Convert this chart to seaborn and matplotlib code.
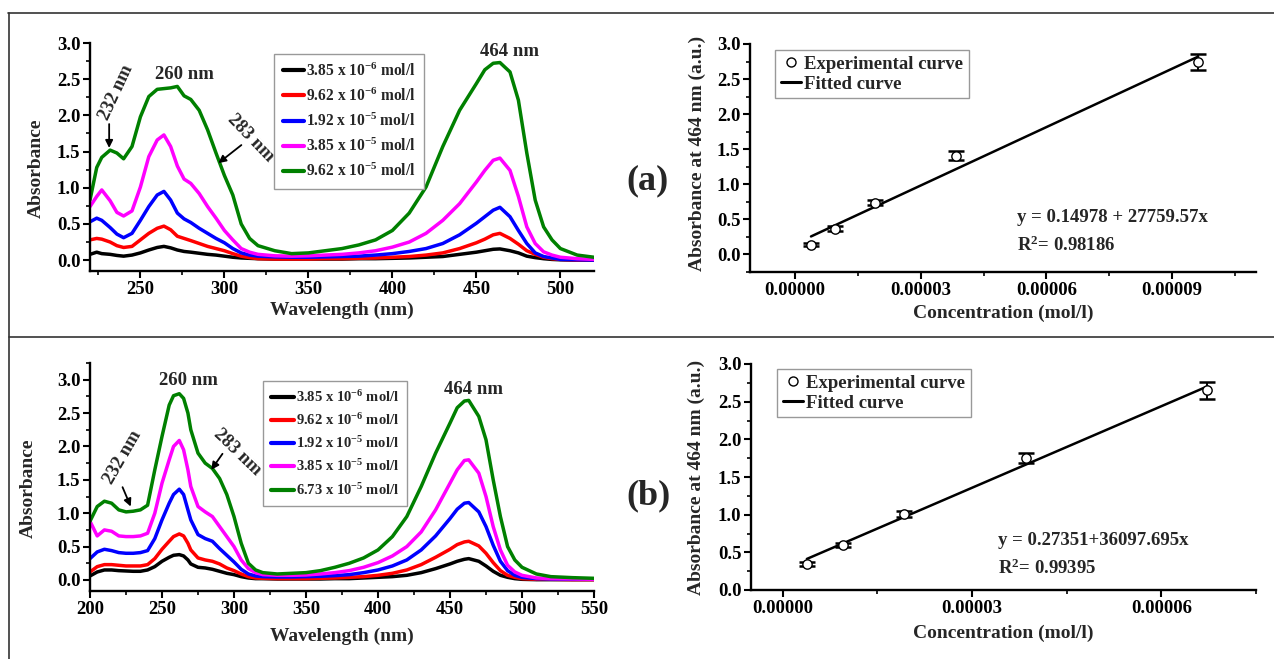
import numpy as np
import pandas as pd
import matplotlib
matplotlib.use("Agg")
import matplotlib.pyplot as plt
from matplotlib.lines import Line2D
from matplotlib.ticker import MultipleLocator, FormatStrFormatter
import seaborn as sns

# ---------------- data ----------------
labels_a = ['3.85 x 10$^{-6}$ mol/l', '9.62 x 10$^{-6}$ mol/l', '1.92 x 10$^{-5}$ mol/l',
            '3.85 x 10$^{-5}$ mol/l', '9.62 x 10$^{-5}$ mol/l']
labels_b = ['3.85 x 10$^{-6}$ mol/l', '9.62 x 10$^{-6}$ mol/l', '1.92 x 10$^{-5}$ mol/l',
            '3.85 x 10$^{-5}$ mol/l', '6.73 x 10$^{-5}$ mol/l']
colors = ['#000000', '#FF0000', '#0000FF', '#FF00FF', '#008000']

wl_a = [220, 224, 227, 232, 236, 240, 245, 250, 255, 260, 264, 268, 272, 276, 280, 285, 290, 295, 300, 305,
        310, 315, 320, 330, 340, 350, 360, 370, 380, 390, 400, 410, 420, 430, 440, 450, 455, 460, 464, 470,
        475, 480, 485, 490, 495, 500, 510, 520]
black_a = [0.08, 0.11, 0.09, 0.08, 0.065, 0.055, 0.07, 0.10, 0.14, 0.175, 0.19, 0.17, 0.14, 0.12, 0.11, 0.095, 0.08, 0.07, 0.055, 0.04,
           0.03, 0.025, 0.02, 0.015, 0.015, 0.015, 0.015, 0.015, 0.02, 0.02, 0.025, 0.03, 0.04, 0.05, 0.08, 0.11, 0.13, 0.15, 0.155, 0.13,
           0.10, 0.055, 0.035, 0.02, 0.01, 0.005, 0.0, 0.0]
red_a = [0.28, 0.30, 0.29, 0.25, 0.20, 0.175, 0.19, 0.28, 0.37, 0.44, 0.47, 0.42, 0.33, 0.30, 0.27, 0.23, 0.19, 0.16, 0.13, 0.09,
         0.055, 0.035, 0.02, 0.015, 0.015, 0.015, 0.02, 0.02, 0.025, 0.03, 0.04, 0.05, 0.07, 0.10, 0.16, 0.24, 0.29, 0.35, 0.37, 0.30,
         0.22, 0.13, 0.08, 0.04, 0.02, 0.01, 0.0, 0.0]
blue_a = [0.53, 0.58, 0.55, 0.45, 0.36, 0.31, 0.37, 0.55, 0.74, 0.90, 0.95, 0.83, 0.65, 0.57, 0.52, 0.44, 0.37, 0.30, 0.24, 0.16,
          0.10, 0.07, 0.055, 0.045, 0.04, 0.04, 0.045, 0.05, 0.055, 0.07, 0.09, 0.12, 0.16, 0.23, 0.35, 0.51, 0.60, 0.69, 0.73, 0.60,
          0.41, 0.23, 0.10, 0.05, 0.03, 0.01, 0.005, 0.0]
pink_a = [0.74, 0.88, 0.97, 0.82, 0.66, 0.61, 0.68, 1.01, 1.43, 1.66, 1.73, 1.57, 1.30, 1.12, 1.06, 0.92, 0.74, 0.58, 0.41, 0.28,
          0.16, 0.11, 0.08, 0.06, 0.055, 0.06, 0.07, 0.08, 0.10, 0.13, 0.18, 0.25, 0.37, 0.55, 0.78, 1.08, 1.24, 1.38, 1.41, 1.24,
          0.88, 0.46, 0.23, 0.115, 0.07, 0.04, 0.02, 0.01]
green_a = [0.83, 1.28, 1.42, 1.52, 1.48, 1.40, 1.57, 1.98, 2.26, 2.36, 2.37, 2.38, 2.40, 2.27, 2.22, 2.07, 1.80, 1.48, 1.17, 0.90,
           0.50, 0.30, 0.20, 0.13, 0.09, 0.10, 0.13, 0.16, 0.21, 0.28, 0.41, 0.65, 1.01, 1.57, 2.07, 2.44, 2.63, 2.72, 2.73, 2.60,
           2.21, 1.48, 0.83, 0.46, 0.28, 0.16, 0.07, 0.04]

wl_b = [200, 205, 210, 215, 220, 225, 230, 235, 240, 245, 250, 255, 258, 262, 265, 268, 270, 275, 280, 285,
        290, 295, 300, 305, 310, 315, 320, 330, 340, 350, 360, 370, 380, 390, 400, 410, 420, 430, 440, 450,
        455, 460, 463, 470, 475, 480, 485, 490, 495, 500, 510, 520, 535, 550]
black_b = [0.06, 0.12, 0.15, 0.15, 0.14, 0.135, 0.13, 0.13, 0.15, 0.20, 0.28, 0.34, 0.37, 0.38, 0.36, 0.30, 0.24, 0.19, 0.18, 0.16,
           0.13, 0.10, 0.08, 0.05, 0.03, 0.02, 0.02, 0.015, 0.015, 0.015, 0.015, 0.02, 0.02, 0.03, 0.04, 0.05, 0.07, 0.11, 0.17, 0.24,
           0.28, 0.31, 0.32, 0.28, 0.21, 0.13, 0.07, 0.04, 0.02, 0.01, 0.005, 0.005, 0.005, 0.005]
red_b = [0.12, 0.20, 0.23, 0.23, 0.22, 0.21, 0.21, 0.21, 0.23, 0.32, 0.46, 0.58, 0.65, 0.69, 0.66, 0.55, 0.45, 0.33, 0.30, 0.28,
         0.24, 0.18, 0.14, 0.09, 0.05, 0.03, 0.025, 0.02, 0.02, 0.02, 0.025, 0.03, 0.04, 0.05, 0.07, 0.10, 0.15, 0.23, 0.34, 0.46,
         0.53, 0.57, 0.58, 0.51, 0.40, 0.26, 0.14, 0.07, 0.04, 0.02, 0.01, 0.01, 0.005, 0.005]
blue_b = [0.32, 0.42, 0.46, 0.44, 0.41, 0.40, 0.40, 0.41, 0.44, 0.62, 0.90, 1.15, 1.28, 1.36, 1.28, 1.05, 0.90, 0.68, 0.62, 0.58,
          0.47, 0.37, 0.27, 0.16, 0.09, 0.06, 0.05, 0.045, 0.045, 0.05, 0.055, 0.065, 0.08, 0.11, 0.15, 0.21, 0.30, 0.45, 0.66, 0.92,
          1.06, 1.15, 1.16, 1.02, 0.80, 0.52, 0.28, 0.14, 0.07, 0.04, 0.02, 0.015, 0.01, 0.01]
pink_b = [0.88, 0.66, 0.75, 0.73, 0.66, 0.65, 0.65, 0.66, 0.70, 1.00, 1.45, 1.80, 2.00, 2.09, 1.95, 1.65, 1.40, 1.10, 1.02, 0.95,
          0.80, 0.65, 0.50, 0.30, 0.17, 0.11, 0.08, 0.07, 0.07, 0.075, 0.09, 0.11, 0.14, 0.19, 0.26, 0.36, 0.50, 0.72, 1.05, 1.45,
          1.65, 1.79, 1.80, 1.60, 1.25, 0.80, 0.45, 0.22, 0.12, 0.07, 0.03, 0.02, 0.015, 0.01]
green_b = [0.88, 1.10, 1.18, 1.15, 1.05, 1.02, 1.03, 1.05, 1.12, 1.65, 2.15, 2.62, 2.76, 2.79, 2.72, 2.50, 2.25, 1.90, 1.75, 1.67,
           1.52, 1.28, 0.95, 0.55, 0.25, 0.15, 0.11, 0.09, 0.10, 0.11, 0.14, 0.19, 0.25, 0.33, 0.45, 0.65, 0.95, 1.40, 1.90, 2.35,
           2.58, 2.68, 2.69, 2.45, 2.10, 1.50, 0.95, 0.50, 0.30, 0.19, 0.09, 0.05, 0.035, 0.025]

conc_a = [3.85e-6, 9.62e-6, 1.92e-5, 3.85e-5, 9.62e-5]
abs_a = [0.14, 0.37, 0.74, 1.41, 2.74]
err_a = [0.02, 0.03, 0.036, 0.06, 0.117]
icpt_a, slope_a = 0.14978, 27759.57

conc_b = [3.85e-6, 9.62e-6, 1.92e-5, 3.85e-5, 6.73e-5]
abs_b = [0.35, 0.60, 1.01, 1.75, 2.65]
err_b = [0.025, 0.03, 0.045, 0.07, 0.11]
icpt_b, slope_b = 0.27351, 36097.695

# ---------------- style ----------------
sns.set_theme(style="white")
plt.rcParams['font.family'] = ['Liberation Serif', 'DejaVu Serif']
plt.rcParams['font.weight'] = 'bold'
plt.rcParams['axes.labelweight'] = 'bold'
plt.rcParams['mathtext.fontset'] = 'custom'
plt.rcParams['mathtext.rm'] = 'Liberation Serif:bold'
plt.rcParams['mathtext.bf'] = 'Liberation Serif:bold'
plt.rcParams['mathtext.it'] = 'Liberation Serif:bold:italic'
plt.rcParams['mathtext.default'] = 'rm'

W, H = 1274, 659
fig = plt.figure(figsize=(W / 100, H / 100), dpi=100)
fig.patch.set_facecolor('white')


def add_ax(l, t, r, b):
    return fig.add_axes([l / W, 1 - b / H, (r - l) / W, (b - t) / H])


def style(ax, xmaj, xmin, ymaj=0.5, ymin=0.25):
    for s in ['top', 'right']:
        ax.spines[s].set_visible(False)
    for s in ['left', 'bottom']:
        ax.spines[s].set_visible(True)
        ax.spines[s].set_linewidth(1.7)
        ax.spines[s].set_color('black')
    ax.xaxis.set_major_locator(MultipleLocator(xmaj))
    ax.xaxis.set_minor_locator(MultipleLocator(xmin))
    ax.yaxis.set_major_locator(MultipleLocator(ymaj))
    ax.yaxis.set_minor_locator(MultipleLocator(ymin))
    ax.tick_params(which='major', direction='out', length=5, width=1.5, color='black',
                   labelsize=13.5, pad=2, bottom=True, left=True, labelcolor='black')
    ax.tick_params(which='minor', direction='out', length=3, width=1.2, color='black',
                   bottom=True, left=True)
    ax.grid(False)
    ax.set_facecolor('white')


def spectra(ax, wl, series, labels):
    df = pd.DataFrame({
        'wl': np.tile(wl, len(series)),
        'A': np.concatenate([np.asarray(s, float) for s in series]),
        'conc': np.repeat(labels, len(wl)),
    })
    sns.lineplot(data=df, x='wl', y='A', hue='conc', hue_order=labels, palette=colors,
                 linewidth=2.5, estimator=None, sort=False, legend=False, ax=ax)
    for ln in ax.lines:
        ln.set_solid_joinstyle('round')
        ln.set_solid_capstyle('round')


def calib(ax, conc, ab, err, icpt, slope):
    ax.errorbar(conc, ab, yerr=err, fmt='none', ecolor='black', elinewidth=1.4,
                capsize=6, capthick=1.8, zorder=2)
    fx = np.array([conc[0], conc[-1]])
    sns.lineplot(x=fx, y=icpt + slope * fx, color='black', linewidth=1.8, ax=ax, zorder=3)
    sns.scatterplot(x=conc, y=ab, marker='o', s=45, facecolor='white', edgecolor='black',
                    linewidth=1.0, ax=ax, zorder=4)
    handles = [Line2D([], [], marker='o', ls='none', mfc='white', mec='black', ms=6.5, mew=1.0),
               Line2D([], [], color='black', lw=2.2)]
    return handles


# ---------------- panel (a) spectra ----------------
ax1 = add_ax(90, 43, 594, 271)
spectra(ax1, wl_a, [black_a, red_a, blue_a, pink_a, green_a], labels_a)
ax1.set_xlim(220, 520)
ax1.set_ylim(-0.15, 3.0)
style(ax1, 50, 25)
ax1.set_xlabel('Wavelength (nm)', fontsize=14, fontweight='bold', labelpad=3)
ax1.set_ylabel('Absorbance', fontsize=14, fontweight='bold', labelpad=4)
ax1.yaxis.set_label_coords(-0.089, 0.45)
hl = [Line2D([], [], color=c, lw=3) for c in colors]
leg = ax1.legend(hl, labels_a, loc='upper left', bbox_to_anchor=(274 / W, 1 - 54 / H),
                 bbox_transform=fig.transFigure, borderaxespad=0, frameon=True, fancybox=False,
                 edgecolor='#999999', fontsize=11.2, handlelength=1.4, handletextpad=0.1,
                 labelspacing=0.5, borderpad=0.55, framealpha=1)
leg.get_frame().set_linewidth(1.0)
ax1.text(276.4, 2.56, '260 nm', fontsize=13.5, fontweight='bold', ha='center', va='center')
ax1.text(469.8, 2.88, '464 nm', fontsize=13.5, fontweight='bold', ha='center', va='center')
ax1.text(235.6, 2.31, '232 nm', fontsize=13.5, fontweight='bold', ha='center', va='center', rotation=65)
ax1.text(315.5, 1.69, '283 nm', fontsize=13.5, fontweight='bold', ha='center', va='center', rotation=-46)
ax1.annotate('', xy=(231.4, 1.55), xytext=(231.4, 1.88),
             arrowprops=dict(arrowstyle='-|>', color='black', lw=1.3, mutation_scale=11, shrinkA=0, shrinkB=0))
ax1.annotate('', xy=(296.4, 1.34), xytext=(310.1, 1.59),
             arrowprops=dict(arrowstyle='-|>', color='black', lw=1.3, mutation_scale=11, shrinkA=0, shrinkB=0))

# ---------------- panel (a) calibration ----------------
ax2 = add_ax(750, 44, 1256, 272)
h2 = calib(ax2, conc_a, abs_a, err_a, icpt_a, slope_a)
ax2.set_xlim(-1.07e-5, 1.10e-4)
ax2.set_ylim(-0.25, 3.0)
style(ax2, 3e-5, 1.5e-5)
ax2.xaxis.set_major_formatter(FormatStrFormatter('%.5f'))
ax2.set_xlabel('Concentration (mol/l)', fontsize=14, fontweight='bold', labelpad=4)
ax2.set_ylabel('Absorbance at 464 nm (a.u.)', fontsize=14, fontweight='bold', labelpad=4)
ax2.yaxis.set_label_coords(-0.087, 0.52)
leg2 = ax2.legend(h2, ['Experimental curve', 'Fitted curve'], loc='upper left',
                  bbox_to_anchor=(775 / W, 1 - 50 / H), bbox_transform=fig.transFigure,
                  borderaxespad=0, frameon=True, fancybox=False, edgecolor='#999999',
                  fontsize=13.5, handlelength=1.1, handletextpad=0.15, labelspacing=0.15,
                  borderpad=0.3, framealpha=1)
leg2.get_frame().set_linewidth(1.0)
ax2.text(5.31e-5, 0.53, 'y = 0.14978 + 27759.57x', fontsize=13.5, fontweight='bold', ha='left', va='center')
ax2.text(5.31e-5, 0.13, 'R$^{2}$= 0.98186', fontsize=13.5, fontweight='bold', ha='left', va='center')

# ---------------- panel (b) spectra ----------------
ax3 = add_ax(90, 363, 594, 591)
spectra(ax3, wl_b, [black_b, red_b, blue_b, pink_b, green_b], labels_b)
ax3.set_xlim(200, 550)
ax3.set_ylim(-0.165, 3.25)
style(ax3, 50, 25)
ax3.set_xlabel('Wavelength (nm)', fontsize=14, fontweight='bold', labelpad=7)
ax3.set_ylabel('Absorbance', fontsize=14, fontweight='bold', labelpad=4)
ax3.yaxis.set_label_coords(-0.105, 0.45)
leg3 = ax3.legend(hl, labels_b, loc='upper left', bbox_to_anchor=(263 / W, 1 - 381 / H),
                  bbox_transform=fig.transFigure, borderaxespad=0, frameon=True, fancybox=False,
                  edgecolor='#999999', fontsize=10.5, handlelength=1.6, handletextpad=0.1,
                  labelspacing=0.5, borderpad=0.55, framealpha=1)
leg3.get_frame().set_linewidth(1.0)
ax3.text(268.6, 2.99, '260 nm', fontsize=13.5, fontweight='bold', ha='center', va='center')
ax3.text(466.4, 2.85, '464 nm', fontsize=13.5, fontweight='bold', ha='center', va='center')
ax3.text(222.6, 1.83, '232 nm', fontsize=13.5, fontweight='bold', ha='center', va='center', rotation=60)
ax3.text(302.0, 1.92, '283 nm', fontsize=13.5, fontweight='bold', ha='center', va='center', rotation=-44)
ax3.annotate('', xy=(228.3, 1.10), xytext=(222.6, 1.39),
             arrowprops=dict(arrowstyle='-|>', color='black', lw=1.3, mutation_scale=11, shrinkA=0, shrinkB=0))
ax3.annotate('', xy=(284.2, 1.65), xytext=(292.0, 1.89),
             arrowprops=dict(arrowstyle='-|>', color='black', lw=1.3, mutation_scale=11, shrinkA=0, shrinkB=0))

# ---------------- panel (b) calibration ----------------
ax4 = add_ax(751, 364, 1256, 590)
h4 = calib(ax4, conc_b, abs_b, err_b, icpt_b, slope_b)
ax4.set_xlim(-5e-6, 7.5e-5)
ax4.set_ylim(0.0, 3.0)
style(ax4, 3e-5, 1.5e-5)
ax4.xaxis.set_major_formatter(FormatStrFormatter('%.5f'))
ax4.set_xlabel('Concentration (mol/l)', fontsize=14, fontweight='bold', labelpad=6)
ax4.set_ylabel('Absorbance at 464 nm (a.u.)', fontsize=14, fontweight='bold', labelpad=4)
ax4.yaxis.set_label_coords(-0.092, 0.5)
leg4 = ax4.legend(h4, ['Experimental curve', 'Fitted curve'], loc='upper left',
                  bbox_to_anchor=(777 / W, 1 - 369 / H), bbox_transform=fig.transFigure,
                  borderaxespad=0, frameon=True, fancybox=False, edgecolor='#999999',
                  fontsize=13.5, handlelength=1.1, handletextpad=0.15, labelspacing=0.15,
                  borderpad=0.3, framealpha=1)
leg4.get_frame().set_linewidth(1.0)
ax4.text(3.42e-5, 0.66, 'y = 0.27351+36097.695x', fontsize=13.5, fontweight='bold', ha='left', va='center')
ax4.text(3.42e-5, 0.29, 'R$^{2}$= 0.99395', fontsize=13.5, fontweight='bold', ha='left', va='center')

# ---------------- panel labels & frame ----------------
fig.text(648 / W, 1 - 181 / H, '(a)', fontsize=26, fontweight='bold', ha='center', va='center')
fig.text(648 / W, 1 - 496 / H, '(b)', fontsize=26, fontweight='bold', ha='center', va='center')
fig.add_artist(Line2D([8 / W, 1.0], [1 - 13 / H, 1 - 13 / H], color='#333333', lw=1.2))
fig.add_artist(Line2D([9 / W, 9 / W], [1 - 13 / H, 0.0], color='#333333', lw=1.2))
fig.add_artist(Line2D([9 / W, 1.0], [1 - 337 / H, 1 - 337 / H], color='#333333', lw=1.2))

fig.savefig('out.png', dpi=100, facecolor='white')
